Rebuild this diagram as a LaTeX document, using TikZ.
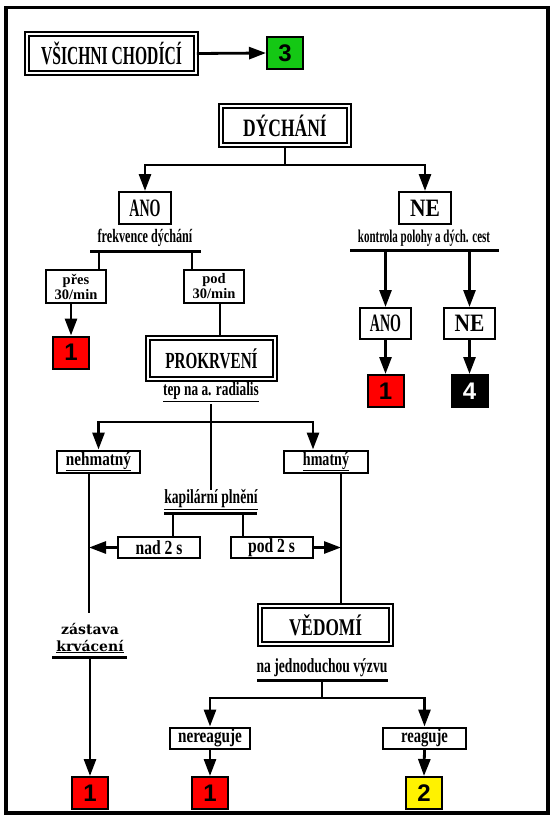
\documentclass[tikz,border=0pt]{standalone}
\usepackage{fontspec}
\usepackage{graphicx}
\usetikzlibrary{arrows.meta,calc}
\newfontfamily\ft{Liberation Serif}
\newfontfamily\fz{DejaVu Serif}
\newfontfamily\fn{Liberation Sans}
\definecolor{gr}{RGB}{20,200,20}
\newcommand\tx[3]{\scalebox{#2}[1]{\fontsize{#1}{#1}\selectfont\ft\bfseries #3}}
\tikzset{
  box/.style={draw, line width=2pt, fill=white, inner sep=0pt},
  dbox/.style={draw, line width=2pt, double, double distance=2pt, inner sep=0pt},
  num/.style={draw, line width=2pt, inner sep=0pt, minimum width=36pt, minimum height=32pt,
    font=\fn\bfseries\fontsize{24}{24}\selectfont},
  ln/.style={line width=2.8pt},
  barl/.style={line width=3pt},
  arr/.style={line width=2.8pt, -{Triangle[width=12pt,length=17pt]}},
  txt/.style={inner sep=0pt}
}
\begin{document}
\begin{tikzpicture}[x=1pt,y=-1pt]
\useasboundingbox (0,0) rectangle (556,820);
\draw[line width=3.5pt] (6,7.5) rectangle (548,813);

% top row
\node[dbox, minimum width=168.6pt, minimum height=38.6pt] (all) at (111.5,53.5) {\tx{26}{0.60}{VŠICHNI CHODÍCÍ}};
\node[num, fill=gr] (g3) at (285,53) {3};
\draw[arr] (all.east) -- (g3.west);

% DYCHANI
\node[dbox, minimum width=127.6pt, minimum height=38.6pt] (dych) at (285,125.5) {\tx{25}{0.70}{DÝCHÁNÍ}};
\coordinate (s1) at (285,165);
\draw[ln] (dych.south) -- (s1);
\node[box, minimum width=52pt, minimum height=32pt] (ano1) at (145,208) {\tx{25}{0.56}{ANO}};
\node[box, minimum width=52pt, minimum height=32pt] (ne1) at (425,208) {\tx{25}{0.86}{NE}};
\draw[arr] (s1) -| (ano1.north);
\draw[arr] (s1) -| (ne1.north);

% left branch
\node[txt] (frek) at (145,238) {\tx{19}{0.64}{frekvence dýchání}};
\coordinate (b1a) at (90,251);
\coordinate (b1b) at (201,251);
\draw[barl] (b1a) -- (b1b);
\node[box, minimum width=60pt, minimum height=33pt, align=center,
  font=\ft\bfseries\fontsize{14.5}{15}\selectfont] (pres) at (76,286.5) {přes\\30/min};
\node[box, minimum width=60pt, minimum height=33pt, align=center,
  font=\ft\bfseries\fontsize{14.5}{15}\selectfont] (pod) at (214,286.5) {pod\\30/min};
\coordinate (v1) at (99,251);
\coordinate (v2) at (192,251);
\draw[ln] (v1) -- (v1 |- pres.north);
\draw[ln] (v2) -- (v2 |- pod.north);
\node[num, fill=red] (r1a) at (71,352.5) {1};
\draw[arr] (r1a |- pres.south) -- (r1a.north);
\node[dbox, minimum width=126.6pt, minimum height=40.6pt] (prok) at (211.5,358.5) {\tx{23}{0.66}{PROKRVENÍ}};
\coordinate (c3) at (220,0);
\draw[ln] (pod.south -| c3) -- (prok.north -| c3);

\node[txt] (tep) at (211,392) {\tx{19}{0.70}{\underline{tep na a. radialis}}};
\coordinate (t1) at (211,404);
\coordinate (h2) at (211,422);
\coordinate (hr) at (313,422);
\node[box, minimum width=83pt, minimum height=22pt] (nehm) at (98.5,461.5) {\raisebox{-1pt}{\tx{19}{0.80}{\underline{nehmatný}}}};
\node[box, minimum width=84pt, minimum height=22pt] (hmat) at (326,461.5) {\raisebox{-1pt}{\tx{19}{0.74}{\underline{hmatný}}}};
\node[txt] (kap) at (211,500) {\tx{20}{0.68}{\underline{kapilární plnění}}};
\draw[ln] (t1) -- (kap.north);
\draw[arr] (h2) -| (nehm.north);
\draw[arr] (h2) -- (hr) -- (hr |- hmat.north);

\coordinate (kb1) at (164,513);
\coordinate (kb2) at (257,513);
\draw[barl] (kb1) -- (kb2);
\node[box, minimum width=82pt, minimum height=21pt] (nad) at (159,547.5) {\tx{20}{0.78}{nad 2 s}};
\node[box, minimum width=82pt, minimum height=21pt] (pod2) at (271.5,547.5) {\tx{20}{0.78}{pod 2 s}};
\coordinate (kv1) at (173,513);
\coordinate (kv2) at (243,513);
\draw[ln] (kv1) -- (kv1 |- nad.north);
\draw[ln] (kv2) -- (kv2 |- pod2.north);

\coordinate (lv) at (89,0);
\coordinate (rv) at (341,0);
\coordinate (lvend) at (89,613);
\draw[ln] (nehm.south -| lv) -- (lvend);
\draw[arr] (nad.west) -- (nad.west -| lv);
\draw[arr] (pod2.east) -- (pod2.east -| rv);

\node[txt, align=center, font=\fz\bfseries\fontsize{14}{17}\selectfont] (zas) at (90,638) {zástava\\\underline{krvácení}};
\coordinate (zb1) at (52,657);
\coordinate (zb2) at (127,657);
\coordinate (zc) at (90,657);
\draw[barl] (zb1) -- (zb2);
\node[num, fill=red] (r1b) at (90,793) {1};
\draw[arr] (zc) -- (r1b.north);

% vedomi
\node[dbox, minimum width=130.6pt, minimum height=37.6pt] (ved) at (325.5,625) {\tx{24}{0.72}{VĚDOMÍ}};
\draw[ln] (hmat.south -| rv) -- (ved.north -| rv);
\node[txt] (naj) at (322,668) {\tx{20}{0.68}{na jednoduchou výzvu}};
\coordinate (nb1) at (257,680);
\coordinate (nb2) at (388,680);
\draw[barl] (nb1) -- (nb2);
\coordinate (n1) at (322,680);
\coordinate (n2) at (322,698);
\draw[ln] (n1) -- (n2);
\node[box, minimum width=80pt, minimum height=21pt] (nere) at (210,738) {\tx{20}{0.76}{nereaguje}};
\node[box, minimum width=83pt, minimum height=21pt] (reag) at (424.5,738) {\tx{20}{0.73}{reaguje}};
\draw[arr] (n2) -| (nere.north);
\draw[arr] (n2) -| (reag.north);
\node[num, fill=red] (r1c) at (210,793) {1};
\node[num, fill=yellow] (y2) at (424,793) {2};
\draw[arr] (nere.south) -- (r1c.north);
\draw[arr] (reag.south) -- (y2.north);

% right branch
\node[txt] (kon) at (424,238) {\tx{18}{0.61}{kontrola polohy a dých. cest}};
\coordinate (rb1) at (350,250);
\coordinate (rb2) at (499,250);
\draw[barl] (rb1) -- (rb2);
\node[box, minimum width=51pt, minimum height=31pt] (ano2) at (385.5,323.5) {\tx{25}{0.56}{ANO}};
\node[box, minimum width=51pt, minimum height=31pt] (ne2) at (469.5,323.5) {\tx{25}{0.86}{NE}};
\coordinate (rv1) at (385.5,250);
\coordinate (rv2) at (469.5,250);
\draw[arr] (rv1) -- (ano2.north);
\draw[arr] (rv2) -- (ne2.north);
\node[num, fill=red] (r1r) at (385.5,391) {1};
\node[num, fill=black, text=white] (b4) at (469.5,391) {4};
\draw[arr] (ano2.south) -- (r1r.north);
\draw[arr] (ne2.south) -- (b4.north);
\end{tikzpicture}
\end{document}
